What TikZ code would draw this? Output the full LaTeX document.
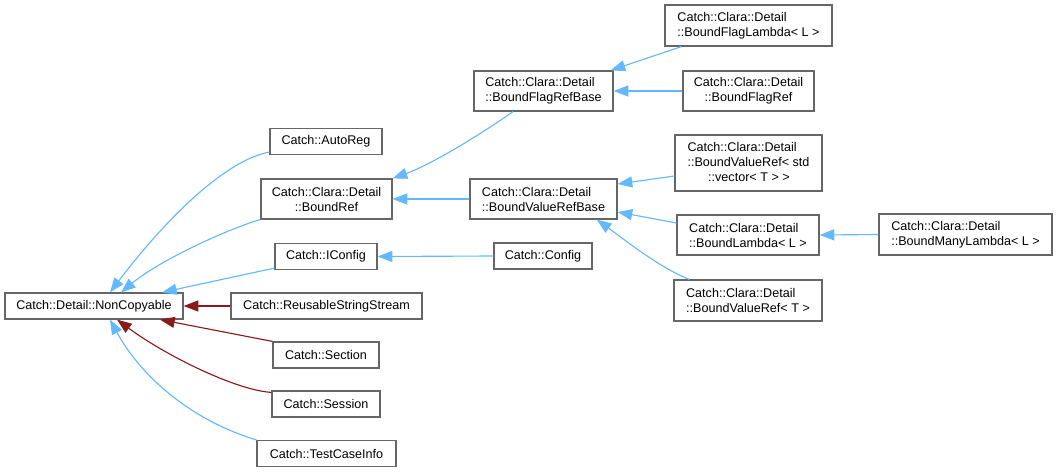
\documentclass[tikz,border=0pt]{standalone}
\usepackage{fontspec}
\setmainfont{Liberation Sans}
\usetikzlibrary{arrows.meta}
\definecolor{eblue}{HTML}{63B8FF}
\definecolor{ered}{HTML}{8B1A1A}
\definecolor{bgray}{HTML}{666666}
\tikzset{
  box/.style={draw=bgray, line width=0.9pt, fill=white, inner sep=1pt, font=\fontsize{9.45pt}{11.25pt}\selectfont},
  one/.style={box, minimum height=19.5pt},
  two/.style={box, minimum height=30pt},
  pub/.style={draw=eblue, line width=0.85pt, -{Triangle[length=11pt,width=8.25pt]}},
  priv/.style={draw=ered, line width=0.85pt, -{Triangle[length=11pt,width=8.25pt]}},
}
\begin{document}
\begin{tikzpicture}[x=0.75pt,y=-0.75pt]
\useasboundingbox (0,0) rectangle (1057,472);
% nodes
\node[one, minimum width=133.5pt] (nc) at (94,306) {Catch::Detail::NonCopyable};
\node[one, minimum width=84pt] (ar) at (326,141.5) {Catch::AutoReg};
\node[two, minimum width=98.25pt, align=center] (br) at (326.5,199) {Catch::Clara::Detail\\::BoundRef};
\node[one, minimum width=76.5pt] (ic) at (326,256.5) {Catch::IConfig};
\node[one, minimum width=143.25pt] (rss) at (326.5,306) {Catch::ReusableStringStream};
\node[one, minimum width=79.5pt] (sec) at (326,355) {Catch::Section};
\node[one, minimum width=81pt] (ses) at (326,404) {Catch::Session};
\node[one, minimum width=104.25pt] (tci) at (326.5,453.5) {Catch::TestCaseInfo};
\node[two, minimum width=104.25pt, align=left] (bfrb) at (543.5,91) {Catch::Clara::Detail\\::BoundFlagRefBase};
\node[two, minimum width=110.25pt, align=left] (bvrb) at (543.5,199) {Catch::Clara::Detail\\::BoundValueRefBase};
\node[one, minimum width=73.5pt] (cfg) at (543,256) {Catch::Config};
\node[two, minimum width=125.25pt, minimum height=30.75pt, align=left] (bfl) at (748.5,25.5) {Catch::Clara::Detail\\::BoundFlagLambda< L >};
\node[two, minimum width=98.25pt, align=center] (bfr) at (748.5,91) {Catch::Clara::Detail\\::BoundFlagRef};
\node[box, minimum width=110.25pt, minimum height=42pt] (vec) at (748.5,163) {\begin{tabular}{@{}l@{}}Catch::Clara::Detail\\::BoundValueRef< std\\\hspace*{15.5pt}::vector< T > >\end{tabular}};
\node[two, minimum width=106.5pt, align=left] (bl) at (748,235) {Catch::Clara::Detail\\::BoundLambda< L >};
\node[two, minimum width=111pt, minimum height=30.75pt, align=left] (bvrt) at (748,300.5) {Catch::Clara::Detail\\::BoundValueRef< T >};
\node[two, minimum width=129.75pt, minimum height=30.75pt, align=left] (bml) at (965.5,234.5) {Catch::Clara::Detail\\::BoundManyLambda< L >};
% edges to NonCopyable
\draw[pub] ([yshift=2.25pt]ar.south west) .. controls (225,160) and (165,220) .. ([xshift=12pt]nc.north);
\draw[pub] (br.south west) .. controls (230,228) and (160,260) .. ([xshift=20.25pt]nc.north);
\draw[pub] ([yshift=1.5pt]ic.south west) -- ([xshift=51pt]nc.north);
\draw[priv] (rss.west) -- (nc.east);
\draw[priv] (sec.north west) -- ([xshift=49.5pt]nc.south);
\draw[priv] ([yshift=-1.5pt]ses.north west) .. controls (235,390) and (165,355) .. ([xshift=17.25pt]nc.south);
\draw[pub] (tci.north west) .. controls (190,420) and (140,375) .. ([xshift=12pt]nc.south);
% other edges
\draw[pub] (cfg.west) -- (ic.east);
\draw[pub] ([xshift=-22.9pt]bfrb.south) .. controls (480,135) and (430,165) .. (br.north east);
\draw[pub] (bvrb.west) -- (br.east);
\draw[pub] ([xshift=12.75pt]bfl.south west) -- ([xshift=-2.25pt]bfrb.north east);
\draw[pub] (bfr.west) -- (bfrb.east);
\draw[pub] ([yshift=-9.75pt]vec.west) -- ([yshift=11.25pt]bvrb.east);
\draw[pub] ([yshift=9pt]bl.west) -- ([yshift=-9.75pt]bvrb.east);
\draw[pub] ([xshift=12pt]bvrt.north west) .. controls (660,268) and (625,240) .. ([xshift=40pt]bvrb.south);
\draw[pub] (bml.west) -- (bl.east);
\end{tikzpicture}
\end{document}
